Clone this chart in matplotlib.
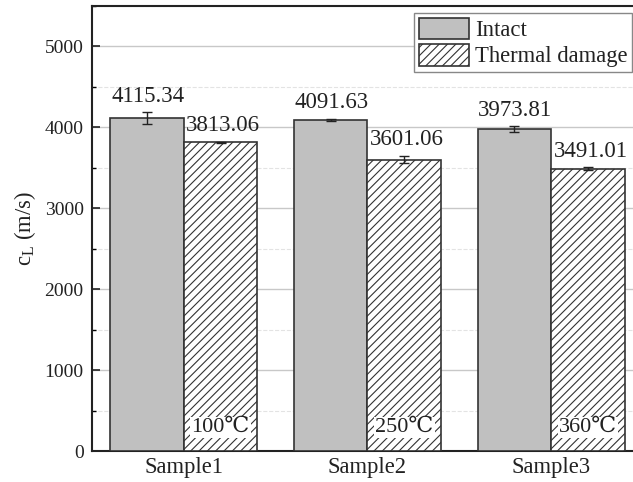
import matplotlib
matplotlib.use("Agg")
import matplotlib.pyplot as plt
import numpy as np
from matplotlib.ticker import MultipleLocator
from matplotlib.patches import Patch

plt.rcParams['font.family'] = ['Liberation Serif', 'DejaVu Serif']
plt.rcParams['mathtext.fontset'] = 'custom'
plt.rcParams['mathtext.rm'] = 'Liberation Serif'
plt.rcParams['hatch.color'] = '#555555'
plt.rcParams['hatch.linewidth'] = 0.8

samples = ['Sample1', 'Sample2', 'Sample3']
intact = [4115.34, 4091.63, 3973.81]
intact_err = [72, 15, 37]
damaged = [3813.06, 3601.06, 3491.01]
damaged_err = [8, 45, 15]
temps = ['100℃', '250℃', '360℃']
series_names = ['Intact', 'Thermal damage']

fig = plt.figure(figsize=(6.33, 4.82), dpi=100)
ax = fig.add_axes([92/633, 1-451/482, (643-92)/633, (451-6)/482])

x = np.arange(1, len(samples)+1)
w = 0.4
ekw = dict(ecolor='#222222', elinewidth=1, capthick=1)
ax.bar(x - w/2, intact, w, color='#c0c0c0', edgecolor='#333333', linewidth=1.2,
       yerr=intact_err, capsize=3.5, error_kw=ekw, zorder=3)
ax.bar(x + w/2, damaged, w, color='white', edgecolor='#333333', linewidth=1.2, hatch='////',
       yerr=damaged_err, capsize=3.5, error_kw=ekw, zorder=3)

for xi, v, e in zip(x - w/2, intact, intact_err):
    ax.annotate(f'{v:.2f}', (xi, v + e), xytext=(0.5, 4), textcoords='offset points',
                ha='center', va='bottom', fontsize=16.5, color='#222222', zorder=5)
for xi, v, e in zip(x + w/2, damaged, damaged_err):
    ax.annotate(f'{v:.2f}', (xi, v + e), xytext=(2, 4), textcoords='offset points',
                ha='center', va='bottom', fontsize=16.5, color='#222222', zorder=5)
for xi, t in zip(x + w/2, temps):
    ax.text(xi, 290, t, ha='center', va='center', fontsize=16, color='#222222', zorder=6,
            bbox=dict(facecolor='white', edgecolor='none', pad=1.0))

ax.set_xlim(0.5, 3.5)
ax.set_ylim(0, 5500)
ax.set_xticks(x)
ax.set_xticklabels(samples, fontsize=16.3)
ax.yaxis.set_major_locator(MultipleLocator(1000))
ax.yaxis.set_minor_locator(MultipleLocator(500))
ax.tick_params(axis='y', which='major', direction='in', length=6, width=1.2, labelsize=14,
               colors='#222222', pad=6)
ax.tick_params(axis='y', which='minor', direction='in', length=3, width=1.0)
ax.tick_params(axis='x', length=0, pad=4, colors='#222222')
ax.set_axisbelow(True)
ax.grid(axis='y', which='major', color='#c8c8c8', linewidth=1.0, zorder=0)
ax.grid(axis='y', which='minor', color='#e3e3e3', linewidth=0.8, linestyle='--', zorder=0)
for s in ax.spines.values():
    s.set_linewidth(1.5)
    s.set_color('#222222')
ax.set_ylabel(r'c$_\mathregular{L}$ (m/s)', fontsize=16.3, labelpad=5, color='#222222')

handles = [Patch(facecolor='#c0c0c0', edgecolor='#333333', linewidth=1.2),
           Patch(facecolor='white', edgecolor='#333333', linewidth=1.2, hatch='////')]
leg = ax.legend(handles, series_names, loc='upper left', bbox_to_anchor=(414/633, 1-13/482),
                bbox_transform=fig.transFigure, fontsize=16.3, fancybox=False, framealpha=1,
                edgecolor='#888888', handlelength=2.25, handleheight=1.1, labelspacing=0.12,
                borderpad=0.2, handletextpad=0.25, borderaxespad=0)
leg.get_frame().set_linewidth(1.0)
for t in leg.get_texts():
    t.set_color('#222222')

fig.savefig('out.png', dpi=100)
